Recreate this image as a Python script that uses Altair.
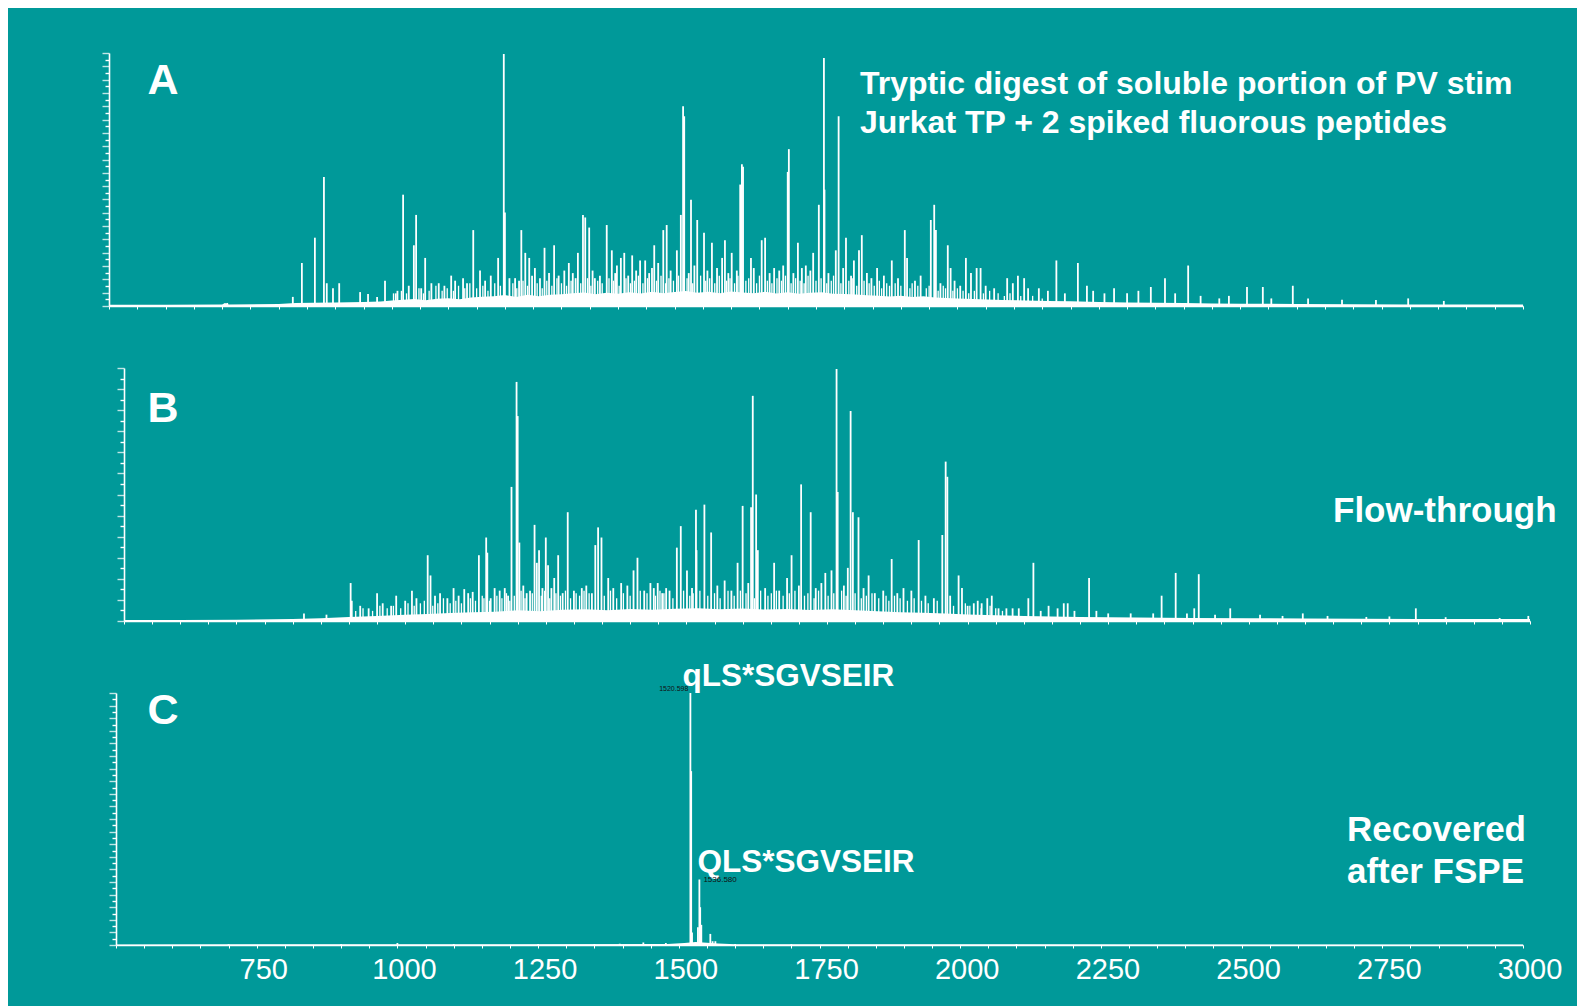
import altair as alt
import pandas as pd

TEAL = "#009999"
WHITE = "#ffffff"
FONT = "Liberation Sans"

X_DOMAIN = [500, 3000]
X_TICKS = list(range(500, 3001, 50))
C_XLABELS = [750, 1000, 1250, 1500, 1750, 2000, 2250, 2500, 2750, 3000]

# ---------------- Panel A : tryptic digest ----------------
A_MZ = [709, 825, 841, 864, 880, 885, 896, 907, 944, 958, 974, 988, 1007,
        1020, 1039, 1043, 1059, 1083, 1105, 1126, 1144, 1156, 1188, 1198, 1200,
        1218, 1229, 1236, 1243, 1253, 1270, 1287, 1313, 1320, 1329, 1338, 1342,
        1349, 1359, 1380, 1389, 1398, 1405, 1411, 1425, 1439, 1448, 1464, 1471,
        1480, 1486, 1504, 1511, 1515, 1517, 1529, 1540, 1552, 1566, 1584, 1589,
        1601, 1616, 1619, 1621, 1635, 1654, 1660, 1676, 1692, 1700, 1702, 1718,
        1732, 1745, 1755, 1764, 1765, 1785, 1790, 1803, 1817, 1826, 1831, 1858,
        1884, 1907, 1911, 1953, 1959, 1962, 1983, 1988, 2015, 2024, 2034, 2041,
        2088, 2107, 2118, 2144, 2175, 2213, 2229, 2277, 2342, 2367, 2408, 2463,
        2512, 2540, 2593, 2740, 2797,
        1010, 1030, 1052, 1070, 1093, 1112, 1133, 1165, 1175, 1208, 1225, 1248,
        1262, 1278, 1295, 1305, 1325, 1355, 1368, 1395, 1418, 1432, 1455, 1460,
        1493, 1525, 1535, 1558, 1575, 1595, 1610, 1640, 1668, 1685, 1710, 1725,
        1740, 1772, 1798, 1812, 1840, 1848, 1870, 1895, 1925, 1935, 1970, 1995,
        2005, 2050, 2065, 2098, 2125, 2160, 2190, 2240, 2260, 2300, 2320, 2385,
        2430, 2480, 2555, 2620, 2680, 2860]
A_INT = [1.2, 3.6, 17, 27, 51, 9, 7, 9, 5.5, 4.7, 3.6, 10, 5,
         44, 24, 36, 19, 9, 12, 11, 30, 14, 19, 99.6, 37,
         11, 30, 21, 19, 15, 23, 24, 17, 13, 21, 36, 35,
         31, 11, 32, 22, 16, 19, 21, 20, 18, 18, 24, 17,
         30, 32, 22, 36, 79, 75, 42, 34, 29, 25, 19, 26,
         21, 48, 56, 55, 19, 26, 27, 15, 16, 53, 62, 25,
         16, 21, 40, 98, 46, 22, 75, 27, 18, 22, 28, 15,
         18, 30, 19, 34, 40, 30, 24, 15, 19, 13, 15, 15,
         11, 12, 11, 7, 18, 17, 8, 7, 7.5, 11, 16, 3,
         7.5, 7.5, 8, 2.4, 3,
         6, 8, 7, 9, 8, 10, 9, 10, 12, 11, 10, 12,
         11, 13, 12, 14, 11, 14, 12, 13, 12, 14, 13, 15,
         14, 13, 16, 14, 15, 13, 14, 15, 13, 14, 13, 15,
         14, 13, 15, 12, 13, 11, 12, 11, 10, 12, 9, 10,
         8, 8, 7, 9, 7, 6, 5, 6, 5, 5, 6, 5,
         4, 4, 3, 3, 2.5, 2]
# dense low-level "grass" of panel A
A_GRASS_MZ = [1003, 1017, 1026, 1048, 1056, 1066, 1078, 1089, 1098, 1109,
              1118, 1129, 1138, 1150, 1161, 1170, 1182, 1192, 1214, 1221,
              1232, 1240, 1257, 1266, 1274, 1283, 1292, 1300, 1309, 1317,
              1334, 1346, 1352, 1364, 1372, 1384, 1392, 1402, 1414, 1422,
              1429, 1436, 1444, 1452, 1468, 1476, 1484, 1490, 1498, 1507,
              1522, 1532, 1546, 1555, 1562, 1571, 1579, 1592, 1598, 1606,
              1612, 1626, 1631, 1645, 1650, 1664, 1672, 1681, 1689, 1696,
              1706, 1714, 1722, 1729, 1736, 1750, 1759, 1769, 1777, 1781,
              1794, 1808, 1814, 1822, 1835, 1844, 1853, 1862, 1866, 1875,
              1880, 1890, 1900, 1916, 1920, 1930, 1945, 1950, 1966, 1975,
              1979, 1992, 2000, 2010, 2020, 2030, 2046, 2057, 2072, 2083,
              2093, 2112, 2133, 2150]
A_GRASS_INT = [5, 6, 5, 7, 5, 6, 8, 6, 7, 6,
               8, 7, 9, 7, 8, 6, 9, 8, 9, 7,
               10, 8, 9, 7, 10, 8, 11, 9, 8, 10,
               9, 11, 8, 10, 9, 11, 10, 8, 11, 9,
               10, 12, 9, 11, 10, 12, 9, 11, 10, 12,
               11, 9, 12, 10, 11, 9, 12, 10, 11, 9,
               12, 10, 11, 9, 12, 10, 9, 11, 10, 12,
               9, 11, 10, 9, 12, 10, 11, 9, 10, 12,
               9, 10, 11, 8, 10, 9, 8, 10, 7, 9,
               8, 9, 8, 7, 9, 8, 7, 8, 6, 8,
               7, 6, 7, 6, 5, 6, 5, 6, 5, 4,
               5, 4, 4, 3]
A_ENV_MZ = [500, 600, 700, 705, 712, 800, 830, 860, 900, 950, 980, 1000, 1020,
            1040, 1060, 1080, 1100, 1120, 1140, 1160, 1180, 1200, 1220, 1240,
            1260, 1280, 1300, 1320, 1340, 1360, 1380, 1400, 1420, 1440, 1460,
            1480, 1500, 1520, 1540, 1560, 1580, 1600, 1620, 1640, 1660, 1680,
            1700, 1720, 1740, 1760, 1780, 1800, 1820, 1840, 1860, 1880, 1900,
            1920, 1940, 1960, 1980, 2000, 2040, 2080, 2120, 2160, 2200, 2250,
            2300, 2350, 2400, 2450, 2500, 2600, 2700, 2800, 2900, 3000]
A_ENV_INT = [0.5, 0.5, 0.6, 1.2, 0.6, 0.8, 1.2, 1.3, 1.4, 1.6, 1.8, 2.2, 2.5,
             2.8, 2.3, 2.9, 3.1, 2.7, 3.4, 3.7, 3.9, 4.3, 3.6, 4.4, 3.9, 4.4,
             4.6, 5.0, 5.3, 4.6, 5.2, 4.8, 5.4, 4.9, 5.6, 5.0, 5.5, 5.9, 5.2,
             5.6, 5.0, 5.7, 5.3, 5.0, 5.6, 4.9, 5.4, 4.8, 5.2, 5.4, 4.8, 4.7,
             4.5, 4.2, 4.1, 3.8, 4.1, 3.6, 3.9, 3.4, 3.2, 3.0, 2.7, 2.4, 2.2,
             2.0, 1.9, 1.6, 1.4, 1.3, 1.2, 1.0, 0.9, 0.8, 0.7, 0.6, 0.6, 0.6]

# ---------------- Panel B : flow-through ----------------
B_MZ = [820, 860, 903, 950, 984, 1012, 1040, 1045, 1053, 1086, 1105, 1120, 1131,
        1144, 1146, 1159, 1177, 1189, 1198, 1200, 1203, 1216, 1230, 1234, 1238,
        1244, 1250, 1254, 1265, 1272, 1289, 1314, 1338, 1343, 1349, 1361, 1384,
        1406, 1413, 1436, 1449, 1464, 1483, 1490, 1501, 1517, 1518, 1532, 1544,
        1568, 1591, 1600, 1615, 1618, 1624, 1627, 1656, 1679, 1687, 1704, 1721,
        1747, 1758, 1767, 1769, 1787, 1792, 1796, 1806, 1824, 1865, 1886, 1913,
        1955, 1961, 1964, 1969, 1984, 1990, 2011, 2018, 2035, 2043, 2069, 2091,
        2108, 2117, 2144, 2171, 2178, 2216, 2229, 2345, 2370, 2403, 2411, 2467,
        2596, 2709, 2797, 2946, 2997,
        905, 920, 935, 960, 975, 1000, 1020, 1062, 1075, 1095, 1112, 1152, 1168,
        1183, 1210, 1222, 1260, 1280, 1300, 1322, 1332, 1370, 1395, 1425, 1442,
        1457, 1470, 1510, 1555, 1580, 1610, 1640, 1665, 1700, 1730, 1740, 1780,
        1815, 1835, 1850, 1875, 1900, 1925, 1940, 2000, 2025, 2055, 2080, 2130,
        2160, 2190, 2250, 2290, 2330, 2390, 2440, 2520, 2560, 2640, 2750, 2850]
B_INT = [3, 2.5, 15, 11, 10, 12, 26, 18, 10, 13, 12.6, 11.5, 26,
         33, 27, 13, 13, 53, 94.5, 81, 31, 11, 38, 23, 28,
         13, 33, 22, 17, 26, 43, 13, 30, 37, 33, 17, 15,
         20, 25, 15, 15, 13, 29, 37.5, 20, 44, 28, 46, 35,
         16, 23, 45.5, 45, 89, 50, 28, 23, 17, 26, 54, 43,
         19, 20, 99.6, 51, 21, 83, 43, 41, 18, 24.5, 13, 32,
         34, 63, 57, 10, 18, 13, 7, 8, 9, 10, 5, 5,
         9, 23, 6, 7, 7, 17, 4, 10, 19, 5, 18.5, 5,
         3, 1.6, 5, 1.2, 2,
         8, 6, 5, 7, 6, 8, 9, 11, 9, 10, 11, 9, 12,
         10, 14, 12, 13, 11, 12, 14, 11, 13, 14, 12, 13,
         11, 12, 13, 14, 12, 15, 13, 12, 14, 13, 15, 14,
         13, 11, 12, 11, 12, 10, 9, 6, 7, 5, 5, 4,
         5, 4, 3, 3, 3, 3, 2.5, 2.5, 2, 2, 1.8, 1.5]
B_GRASS_MZ = [912, 925, 942, 955, 968, 979, 992, 1005, 1016, 1027,
              1034, 1049, 1058, 1068, 1080, 1090, 1100, 1116, 1125, 1137,
              1140, 1150, 1163, 1172, 1180, 1186, 1194, 1206, 1213, 1226,
              1242, 1248, 1257, 1268, 1276, 1285, 1294, 1304, 1310, 1318,
              1327, 1354, 1365, 1376, 1388, 1400, 1418, 1430, 1445, 1453,
              1460, 1476, 1495, 1506, 1512, 1524, 1538, 1550, 1560, 1574,
              1585, 1596, 1606, 1621, 1632, 1645, 1651, 1660, 1672, 1683,
              1693, 1710, 1716, 1727, 1735, 1752, 1762, 1776, 1784, 1800,
              1811, 1820, 1830, 1842, 1855, 1860, 1870, 1880, 1893, 1905,
              1918, 1930, 1946, 1975, 1996, 2004, 2024, 2040, 2050, 2062]
B_GRASS_INT = [4, 5, 4, 6, 5, 6, 5, 7, 6, 7,
               8, 6, 7, 9, 7, 8, 7, 9, 8, 10,
               9, 8, 10, 9, 11, 8, 10, 12, 9, 11,
               10, 12, 9, 11, 10, 12, 9, 11, 10, 12,
               11, 10, 12, 9, 11, 10, 12, 11, 10, 12,
               11, 9, 12, 10, 11, 12, 10, 11, 9, 12,
               10, 12, 11, 9, 12, 10, 11, 12, 10, 11,
               12, 10, 11, 9, 12, 10, 11, 12, 10, 11,
               9, 10, 11, 9, 10, 8, 10, 9, 8, 9,
               8, 7, 8, 6, 7, 6, 5, 6, 5, 4]
B_ENV_MZ = [500, 600, 700, 800, 850, 900, 950, 1000, 1040, 1080, 1120, 1160,
            1200, 1240, 1280, 1320, 1360, 1400, 1440, 1480, 1520, 1560, 1600,
            1640, 1680, 1720, 1760, 1800, 1840, 1880, 1920, 1960, 2000, 2050,
            2100, 2150, 2200, 2300, 2400, 2500, 2600, 2700, 2800, 2900, 3000]
B_ENV_INT = [0.4, 0.4, 0.5, 0.8, 1.1, 1.6, 2.0, 2.5, 2.8, 3.2, 3.5, 3.7,
             4.2, 3.9, 4.4, 4.6, 4.2, 4.7, 4.4, 4.8, 5.0, 4.6, 4.9,
             4.5, 4.7, 4.3, 4.6, 4.2, 3.9, 3.5, 3.3, 3.0, 2.6, 2.3,
             2.0, 1.8, 1.6, 1.4, 1.2, 1.1, 1.0, 0.9, 0.8, 0.8, 0.8]

# ---------------- Panel C : recovered after FSPE ----------------
C_MZ = [1520.598, 1522, 1523.5, 1534, 1536.58, 1538, 1540, 1556, 1560, 1565,
        1437, 1477, 1395, 1350, 1250, 1100, 1000, 900, 700, 1600, 1700, 2100]
C_INT = [100, 69, 5, 7, 26, 15, 8, 4.4, 1.5, 1.5,
         1.0, 0.8, 0.5, 0.4, 0.4, 0.4, 0.8, 0.3, 0.3, 0.4, 0.3, 0.3]
C_ENV_MZ = [500, 1000, 1480, 1510, 1530, 1570, 1600, 3000]
C_ENV_INT = [0.2, 0.3, 0.4, 0.8, 1.2, 0.6, 0.3, 0.2]

PANEL_LETTERS = ["A", "B", "C"]
TITLE_A = ["Tryptic digest of soluble portion of PV stim",
           "Jurkat TP + 2 spiked fluorous peptides"]
TITLE_B = ["Flow-through"]
TITLE_C = ["Recovered", "after FSPE"]
C_PEAK_NAMES = ["qLS*SGVSEIR", "QLS*SGVSEIR"]
C_PEAK_MZ = [1520.598, 1536.580]
C_PEAK_INT = [100, 26]
C_MASS_LABELS = ["1520.598", "1536.580"]

PANEL_W = 1421


def make_xy(x_range, plot_h, y_offset, x_offset, n_yticks):
    xs = alt.Scale(domain=X_DOMAIN, range=x_range, nice=False, zero=False)
    ys = alt.Scale(domain=[0, 100], range=[plot_h, 0], nice=False)
    ytick_vals = [k * 100 / n_yticks for k in range(n_yticks + 1)]
    xa = alt.Axis(values=X_TICKS, title=None, grid=False, domainColor=WHITE,
                  domainWidth=1.6, tickColor=WHITE, tickWidth=1, tickSize=3,
                  offset=x_offset, labels=False)
    even = f"round(datum.value*{n_yticks}/100) % 2 == 0"
    ya = alt.Axis(values=ytick_vals, title=None, grid=False, labels=False,
                  domainColor=WHITE, domainWidth=1.6, tickColor=WHITE,
                  tickWidth=1.4, offset=y_offset,
                  tickSize={"condition": {"test": even, "value": 7}, "value": 4},
                  tickOpacity={"condition": {"test": even, "value": 0.75}, "value": 1})
    return (alt.X("mz:Q", scale=xs, axis=xa),
            alt.Y("intensity:Q", scale=ys, axis=ya))


def text_layer(lines, x, y, size, weight="bold", align="left", lh=None):
    kw = dict(text=lines, align=align, baseline="alphabetic", font=FONT,
              fontSize=size, fontWeight=weight, color=WHITE)
    if lh is not None:
        kw["lineHeight"] = lh
    return alt.Chart(pd.DataFrame({"k": [0]})).mark_text(**kw).encode(
        x=alt.value(x), y=alt.value(y))


def rule_layer(mz, inten, X, Y, width):
    df = pd.DataFrame({"mz": mz, "intensity": inten})
    return alt.Chart(df).mark_rule(color=WHITE, strokeWidth=width).encode(
        x=X, y=Y, y2=alt.datum(0))


def panel(X, Y, mz, inten, env_mz, env_int, *, height, letter, letter_y, extra):
    env = pd.DataFrame({"mz": env_mz, "intensity": env_int})
    area = alt.Chart(env).mark_area(color=WHITE, opacity=1).encode(x=X, y=Y)
    rules = rule_layer(mz, inten, X, Y, 1.8)
    let = text_layer(letter, 54, letter_y, 43, align="center")
    return alt.layer(area, rules, let, *extra).properties(width=PANEL_W,
                                                           height=height)


# ---- A ----
AX, AY = make_xy([0, 1414], 253, 0, 0, 38)
chart_a = panel(AX, AY, A_MZ, A_INT, A_ENV_MZ, A_ENV_INT, height=253,
                letter=PANEL_LETTERS[0], letter_y=41,
                extra=[rule_layer(A_GRASS_MZ, A_GRASS_INT, AX, AY, 1.3),
                       text_layer(TITLE_A, 751, 40.5, 32, lh=39)])

# ---- B ----
BX, BY = make_xy([15, 1421], 253, -15, -10, 24)
chart_b = panel(BX, BY, B_MZ, B_INT, B_ENV_MZ, B_ENV_INT, height=263,
                letter=PANEL_LETTERS[1], letter_y=54,
                extra=[rule_layer(B_GRASS_MZ, B_GRASS_INT, BX, BY, 1.3),
                       text_layer(TITLE_B, 1224, 154, 35)])

# ---- C ----
CX, CY = make_xy([7, 1414], 252, -7, 0, 40)
c_ann = pd.DataFrame({"mz": C_PEAK_MZ, "intensity": C_PEAK_INT,
                      "name": C_PEAK_NAMES, "mass": C_MASS_LABELS})
ann_layers = []
for i, (ddx, ddy, fs) in enumerate([(-8, -7, 31.5), (-2, -7, 31.5)]):
    ann_layers.append(
        alt.Chart(c_ann.iloc[[i]]).mark_text(
            align="left", baseline="alphabetic", dx=ddx, dy=ddy, font=FONT,
            fontSize=fs, fontWeight="bold", color=WHITE).encode(
            x=CX, y=CY, text="name:N"))
for i, (al, ddx, ddy, fs) in enumerate([("right", -2, -2, 7), ("left", 4, 3, 8)]):
    ann_layers.append(
        alt.Chart(c_ann.iloc[[i]]).mark_text(
            align=al, baseline="alphabetic", dx=ddx, dy=ddy, font=FONT,
            fontSize=fs, color="#111111").encode(
            x=CX, y=CY, text="mass:N"))

# x tick labels of the bottom panel, placed through the x scale
xlab = pd.DataFrame({"mz": C_XLABELS, "lab": [str(v) for v in C_XLABELS]})
xlab_layer = alt.Chart(xlab).mark_text(
    align="center", baseline="alphabetic", dx=7, font=FONT, fontSize=29,
    color=WHITE).encode(x=CX, y=alt.value(286), text="lab:N")

chart_c = panel(CX, CY, C_MZ, C_INT, C_ENV_MZ, C_ENV_INT, height=252,
                letter=PANEL_LETTERS[2], letter_y=31,
                extra=[text_layer(TITLE_C, 1238, 148, 35, lh=42),
                       xlab_layer] + ann_layers)

chart = alt.vconcat(chart_a, chart_b, chart_c, spacing=62, bounds="flush").properties(
    background=TEAL,
    padding={"left": 93, "top": 44, "right": 14, "bottom": 30},
).configure_view(stroke=None)

chart.save("out.html", embed_options={"renderer": "svg", "actions": False})
